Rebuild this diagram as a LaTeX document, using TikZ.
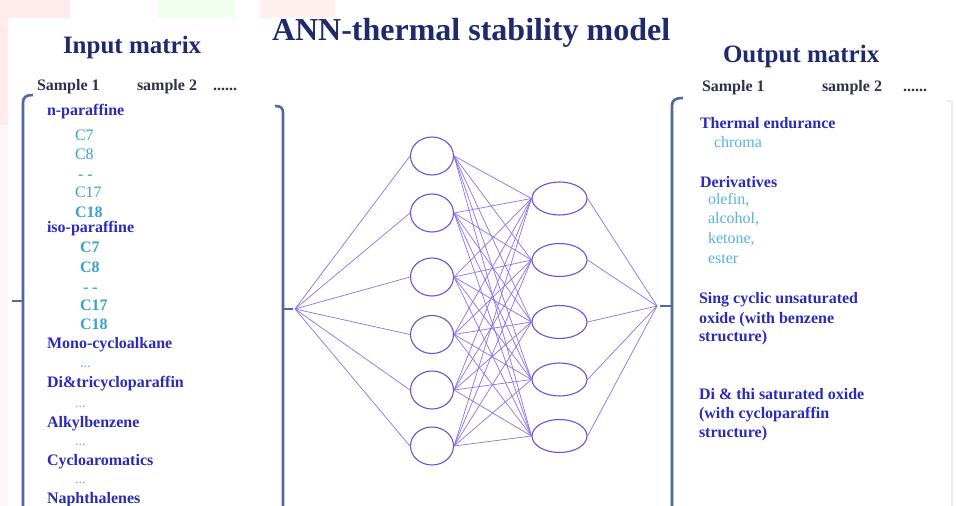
\documentclass[tikz,border=0pt]{standalone}
\usepackage{fontspec}
\setmainfont{Liberation Serif}
\usetikzlibrary{shapes.geometric}
\definecolor{navy}{HTML}{1F2A6C}
\definecolor{hdr}{HTML}{2B2BB5}
\definecolor{cyanC}{HTML}{3AA2C8}
\definecolor{cyanL}{HTML}{55B4DC}
\definecolor{dotc}{HTML}{7AA6D6}
\definecolor{smp}{HTML}{30304A}
\definecolor{brk}{HTML}{4F6A9A}
\definecolor{netl}{HTML}{8574EC}
\definecolor{neto}{HTML}{6A52D6}
\begin{document}
\begin{tikzpicture}[x=1pt,y=-1pt,
  base/.style={anchor=base west, inner sep=0pt, outer sep=0pt},
  ttl/.style={base, font=\fontsize{32}{36}\selectfont\bfseries, text=navy},
  mtx/.style={base, font=\fontsize{25}{30}\selectfont\bfseries, text=navy},
  smpl/.style={base, font=\fontsize{16}{19}\selectfont\bfseries, text=smp},
  hd/.style={base, font=\fontsize{16}{19}\selectfont\bfseries, text=hdr},
  cy/.style={base, font=\fontsize{16}{19}\selectfont, text=cyanC},
  cyb/.style={base, font=\fontsize{16}{19}\selectfont\bfseries, text=cyanC},
  lc/.style={base, font=\fontsize{16}{19}\selectfont, text=cyanL},
  dts/.style={base, font=\fontsize{14}{16}\selectfont, text=dotc},
  bracket/.style={draw=brk, line width=2.6pt},
  neuronA/.style={ellipse, draw=neto, line width=1.1pt, minimum width=43pt, minimum height=38pt, inner sep=0pt},
  neuronB/.style={ellipse, draw=neto, line width=1.1pt, minimum width=55pt, minimum height=33pt, inner sep=0pt},
  net/.style={draw=netl, line width=0.7pt}
]
\useasboundingbox (0,0) rectangle (956,506);
% background
\fill[white] (0,0) rectangle (956,506);
\fill[red!8] (0,0) rectangle (70,125);
\fill[green!6] (158,0) rectangle (235,18);
\fill[red!6] (260,0) rectangle (335,18);
\fill[red!3] (0,125) rectangle (8,506);
\fill[white] (8,18) rectangle (956,506);

% titles
\node[ttl] (title) at (272,40) {ANN-thermal stability model};
\node[mtx] (inm) at (63,53) {Input matrix};
\node[mtx] (outm) at (723,62) {Output matrix};

% sample rows
\node[smpl] (ls1) at (37,90) {Sample 1};
\node[smpl] (ls2) at (137,90) {sample 2};
\node[smpl] (lsd) at (213,90) {......};
\node[smpl] (rs1) at (702,91) {Sample 1};
\node[smpl] (rs2) at (822,91) {sample 2};
\node[smpl] (rsd) at (903,91) {......};

% brackets
\draw[bracket] (33,95) .. controls (26,95) and (23,97) .. (23,103) -- (23,506);
\draw[bracket] (12,301) -- (23,301);
\draw[bracket] (275,106) .. controls (281,106) and (283,108) .. (283,113) -- (283,506);
\draw[bracket] (283,309) -- (293,309);
\draw[bracket] (683,98) .. controls (675,98) and (672,100) .. (672,106) -- (672,506);
\draw[bracket] (660,306) -- (672,306);
\draw[gray!15, line width=1.5pt] (946,101) -- (952,101) -- (952,506);

% left column
\node[hd] (np) at (47,115) {n-paraffine};
\node[cy] (c7a) at (75,140) {C7};
\node[cy] (c8a) at (75,159) {C8};
\node[cy] (dda) at (78,179) {- -};
\node[cy] (c17a) at (75,197) {C17};
\node[cyb] (c18a) at (75,217) {C18};
\node[hd] (iso) at (47,232) {iso-paraffine};
\node[cyb] (c7b) at (80,252) {C7};
\node[cyb] (c8b) at (80,272) {C8};
\node[cyb] (ddb) at (83,292) {- -};
\node[cyb] (c17b) at (80,310) {C17};
\node[cyb] (c18b) at (80,329) {C18};
\node[hd] (mono) at (47,348) {Mono-cycloalkane};
\node[dts] (d1) at (80,367) {...};
\node[hd] (ditri) at (47,387) {Di\&tricycloparaffin};
\node[dts] (d2) at (75,407) {...};
\node[hd] (alkyl) at (47,427) {Alkylbenzene};
\node[dts] (d3) at (75,445) {...};
\node[hd] (cyclo) at (47,465) {Cycloaromatics};
\node[dts] (d4) at (75,483) {...};
\node[hd] (naph) at (47,503) {Naphthalenes};

% right column
\node[hd] (te) at (700,128) {Thermal endurance};
\node[lc] (chr) at (714,147) {chroma};
\node[hd] (der) at (700,187) {Derivatives};
\node[lc] (ole) at (708,204) {olefin,};
\node[lc] (alc) at (708,223) {alcohol,};
\node[lc] (ket) at (708,243) {ketone,};
\node[lc] (est) at (708,263) {ester};
\node[hd] (s1) at (699,303) {Sing cyclic unsaturated};
\node[hd] (s2) at (699,323) {oxide (with benzene};
\node[hd] (s3) at (699,341) {structure)};
\node[hd] (t1) at (699,399) {Di \& thi saturated oxide};
\node[hd] (t2) at (699,418) {(with cycloparaffin};
\node[hd] (t3) at (699,437) {structure)};

% network
\coordinate (in) at (295,309);
\coordinate (out) at (657,306);
\node[neuronA] (h1) at (432,156) {};
\node[neuronA] (h2) at (432,213) {};
\node[neuronA] (h3) at (432,277) {};
\node[neuronA] (h4) at (432,334.5) {};
\node[neuronA] (h5) at (432,390) {};
\node[neuronA] (h6) at (432,446) {};
\node[neuronB] (e1) at (559.5,198.5) {};
\node[neuronB] (e2) at (559.5,260) {};
\node[neuronB] (e3) at (559.5,322) {};
\node[neuronB] (e4) at (559.5,379.5) {};
\node[neuronB] (e5) at (559.5,436) {};
\foreach \i in {1,...,6} {
  \draw[net] (in) -- (h\i.west);
  \foreach \j in {1,...,5} {
    \draw[net] (h\i.east) -- (e\j.west);
  }
}
\foreach \j in {1,...,5} {
  \draw[net] (e\j.east) -- (out);
}
\end{tikzpicture}
\end{document}
